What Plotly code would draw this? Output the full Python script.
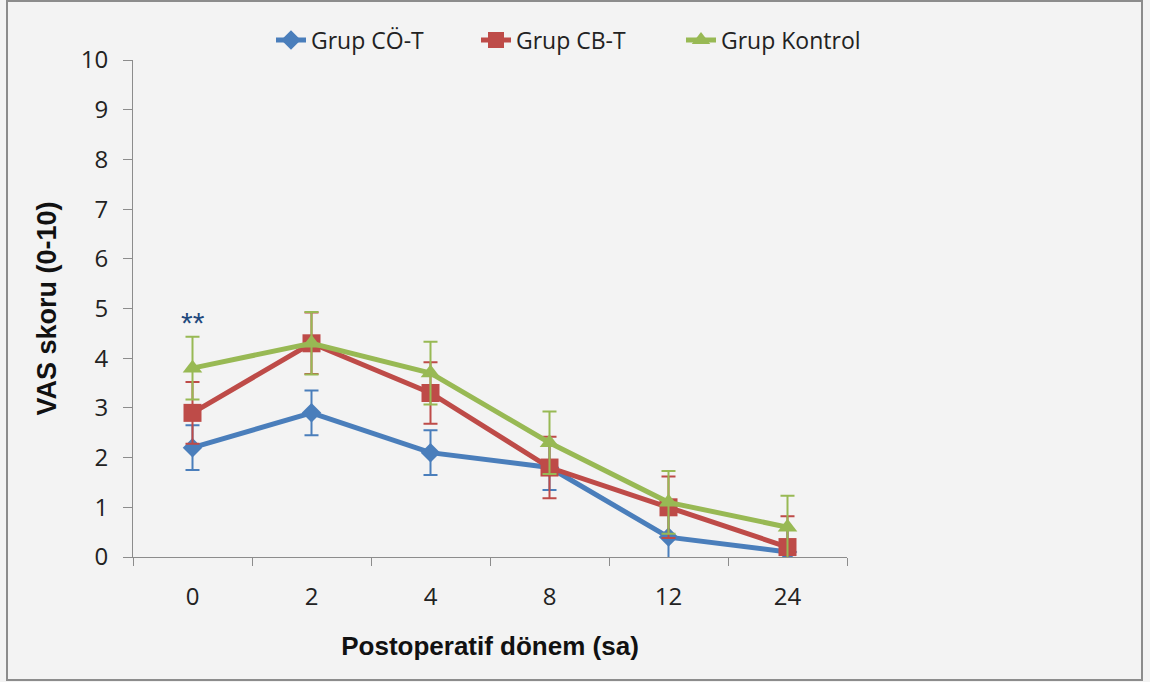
import plotly.graph_objects as go

# Postoperative period (hours) and VAS scores per group
periods = ["0", "2", "4", "8", "12", "24"]
series_names = ["Grup CÖ-T", "Grup CB-T", "Grup Kontrol"]
vas_co_t = [2.2, 2.9, 2.1, 1.8, 0.4, 0.1]
vas_cb_t = [2.9, 4.3, 3.3, 1.8, 1.0, 0.2]
vas_kontrol = [3.8, 4.3, 3.7, 2.3, 1.1, 0.6]
err_co_t = [0.45, 0.45, 0.45, 0.45, 0.45, 0.45]
err_cb_t = [0.62, 0.62, 0.62, 0.62, 0.62, 0.62]
err_kontrol = [0.63, 0.63, 0.63, 0.63, 0.63, 0.63]
y_ticks = [0, 1, 2, 3, 4, 5, 6, 7, 8, 9, 10]
note_text = "**"
note_value = 4.77

colors = ["#4a7ebb", "#be4b48", "#98b954"]
symbols = ["diamond", "square", "triangle-up"]
sizes = [15, 18, 17]
values = [vas_co_t, vas_cb_t, vas_kontrol]
errors = [err_co_t, err_cb_t, err_kontrol]

fig = go.Figure()
for name, vals, errs, col, sym, sz in zip(series_names, values, errors, colors, symbols, sizes):
    fig.add_trace(go.Scatter(
        x=periods, y=vals, name=name, mode="lines+markers",
        line=dict(color=col, width=5),
        marker=dict(symbol=sym, size=sz, color=col),
        error_y=dict(type="data", array=errs, visible=True,
                     color=col, thickness=2, width=7),
    ))

fig.add_annotation(x=periods[0], y=note_value, text=note_text, showarrow=False,
                   font=dict(size=30, color="#1f497d", family="Liberation Sans"),
                   yanchor="middle", yshift=-3)

# outer frame
L, R, T, B = 133, 303, 60, 125
W, H = 1150, 682
pw, ph = W - L - R, H - T - B
def px_x(p):
    return (p - L) / pw
def px_y(p):
    return (H - B - p) / ph
fig.add_shape(type="rect", xref="paper", yref="paper",
              x0=px_x(7), x1=px_x(1142), y0=px_y(680), y1=px_y(1),
              line=dict(color="#8c8c8c", width=2), layer="below")

tick_font = dict(family="Open Sans", size=24, color="#222222")

fig.update_layout(
    width=W, height=H,
    margin=dict(l=L, r=R, t=T, b=B, autoexpand=False),
    paper_bgcolor="#f3f3f3", plot_bgcolor="#f3f3f3",
    font=dict(family="Open Sans", size=20, color="#222222"),
    showlegend=True,
    legend=dict(orientation="h", xref="container", yref="container",
                x=271 / W, xanchor="left",
                y=1 - 40 / H, yanchor="middle",
                entrywidth=160, entrywidthmode="pixels",
                font=dict(size=23, family="Open Sans", color="#222222"),
                bgcolor="rgba(0,0,0,0)"),
    xaxis=dict(type="category", range=[-0.5, 5.5],
               showgrid=False, zeroline=False,
               showline=True, linecolor="#8c8c8c", linewidth=1,
               ticks="outside", tickson="boundaries", ticklen=8,
               tickcolor="#8c8c8c", tickfont=tick_font,
               ticklabelstandoff=18,
               title=dict(text="<b>Postoperatif dönem (sa)</b>",
                          font=dict(family="Liberation Sans", size=26, color="#111111"),
                          standoff=26)),
    yaxis=dict(range=[0, 10], tickvals=y_ticks,
               showgrid=False, zeroline=False,
               showline=True, linecolor="#8c8c8c", linewidth=1,
               ticks="outside", ticklen=9, tickcolor="#8c8c8c",
               tickfont=tick_font, ticklabelstandoff=10,
               title=dict(text="<b>VAS skoru (0-10)</b>",
                          font=dict(family="Liberation Sans", size=27, color="#111111"),
                          standoff=16)),
)

fig.write_html("out.html")
